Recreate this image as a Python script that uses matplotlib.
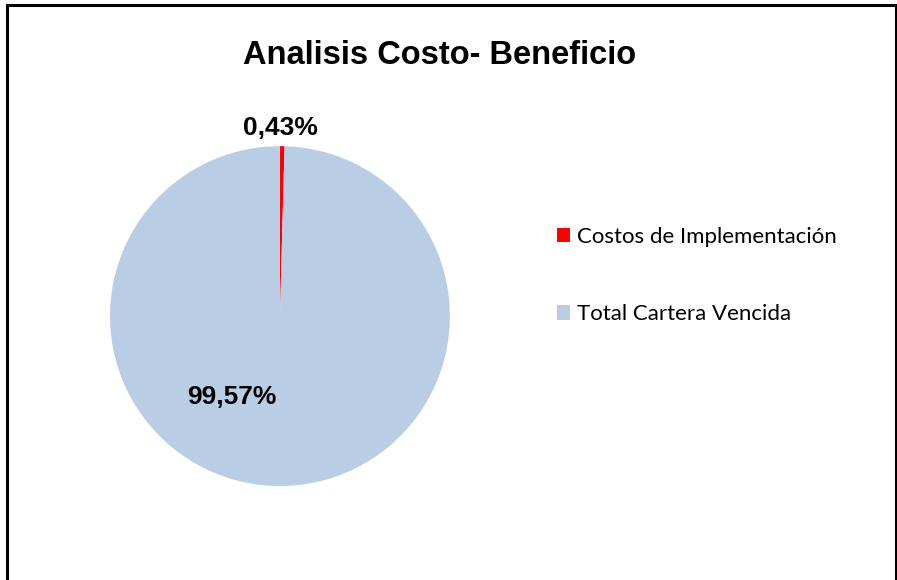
import matplotlib
matplotlib.use("Agg")
import matplotlib.pyplot as plt
from matplotlib.patches import Rectangle

labels = ["Costos de Implementación", "Total Cartera Vencida"]
values = [0.43, 99.57]
pct_text = ["0,43%", "99,57%"]
colors = ["#FF0000", "#B9CDE5"]

fig = plt.figure(figsize=(8.97, 5.80), dpi=100)
fig.patches.append(Rectangle((7 / 897, -0.01), 889 / 897, 1 - 5 / 580 + 0.01,
                             transform=fig.transFigure, fill=False,
                             edgecolor="black", linewidth=2.2))

ax = fig.add_axes([0.1226, 0.162, 0.379, 0.586])
wedges, _ = ax.pie(values, colors=colors, startangle=90, counterclock=False,
                   radius=1.0, wedgeprops=dict(linewidth=0))
ax.set_xlim(-1, 1)
ax.set_ylim(-1, 1)
ax.set_aspect("equal")

# data labels (placed like Excel's best fit)
ax.text(0.0, 1.106, pct_text[0], ha="center", va="center",
        fontsize=19, fontweight="bold", family="Liberation Sans")
ax.text(-0.282, -0.476, pct_text[1], ha="center", va="center",
        fontsize=19, fontweight="bold", family="Liberation Sans")

fig.text(440 / 897, 1 - 55 / 580, "Analisis Costo- Beneficio", ha="center",
         va="center", fontsize=23.5, fontweight="bold", family="Liberation Sans")

leg = fig.legend(wedges, labels, loc="upper left",
                 bbox_to_anchor=(537 / 897, 1 - 207 / 580), frameon=False,
                 prop=dict(family="Lato", size=16), handlelength=0.6,
                 handleheight=0.6, handletextpad=0.3, labelspacing=2.58)

fig.savefig("out.png", dpi=100)
